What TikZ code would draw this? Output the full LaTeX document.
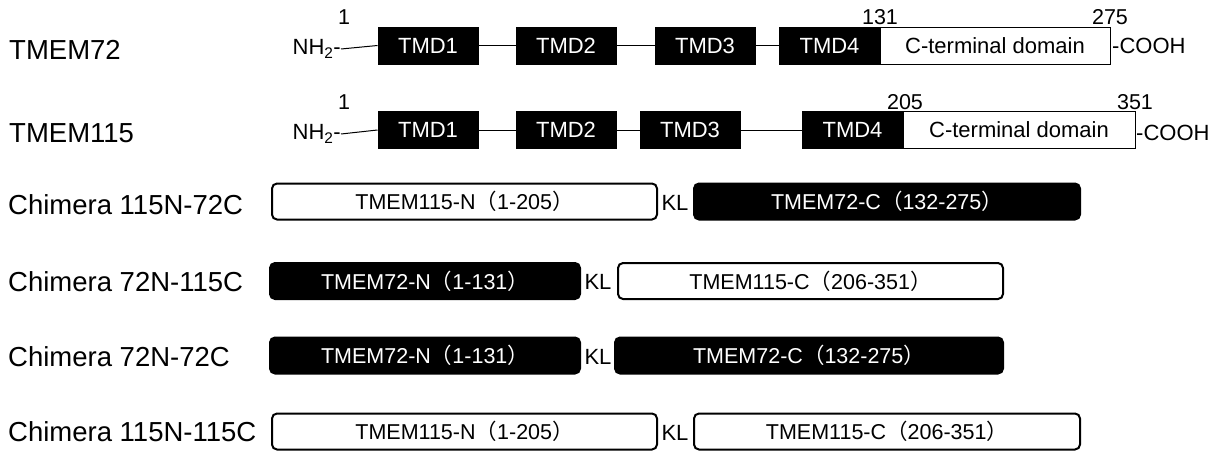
\documentclass[tikz,border=0pt]{standalone}
\usepackage{fontspec}
\setmainfont{Liberation Sans}
\newfontfamily\cjk{Noto Sans CJK SC}
\newcommand\fwl{{\cjk （}}
\newcommand\fwr{{\cjk ）}}
\begin{document}
\begin{tikzpicture}[x=1pt,y=-1pt,
  rowlab/.style={anchor=west,inner sep=0pt,font=\fontsize{27.5}{29}\selectfont},
  tmd/.style={draw=black,fill=black,text=white,line width=1pt,minimum height=37pt,minimum width=100pt,inner sep=0pt,font=\fontsize{22}{24}\selectfont},
  cterm/.style={draw=black,fill=white,line width=1pt,minimum height=37pt,inner sep=0pt,font=\fontsize{22}{24}\selectfont},
  num/.style={inner sep=0pt,font=\fontsize{21.5}{23}\selectfont},
  term/.style={inner sep=0pt,font=\fontsize{22}{24}\selectfont},
  chw/.style={draw=black,fill=white,line width=2pt,rounded corners=5pt,minimum height=36pt,inner sep=0pt,font=\fontsize{21.5}{23}\selectfont},
  chb/.style={draw=black,fill=black,text=white,line width=2pt,rounded corners=5pt,minimum height=36pt,inner sep=0pt,font=\fontsize{21.5}{23}\selectfont},
  kl/.style={inner sep=0pt,font=\fontsize{22}{24}\selectfont},
  link/.style={line width=1pt}]
\useasboundingbox (0,0) rectangle (1223,455);
% Row 1: TMEM72
\node[rowlab] (l1) at (9,50) {TMEM72};
\node[term,anchor=east] (nh1) at (341,49) {NH\textsubscript{2}-};
\node[tmd] (a1) at (428,45.5) {TMD1};
\node[tmd] (a2) at (566,45.5) {TMD2};
\node[tmd] (a3) at (705,45.5) {TMD3};
\node[tmd,minimum width=101pt] (a4) at (829.5,45.5) {TMD4};
\node[cterm,minimum width=230pt] (ac) at (995,45.5) {C-terminal domain};
\node[term,anchor=west] (co1) at (1112,45.5) {-COOH};
\node[num] (n1a) at (344,17) {1};
\node[num] (n1b) at (880,17) {131};
\node[num] (n1c) at (1110,17) {275};
\draw[link] (nh1.east) -- (a1.west);
\draw[link] (a1.east) -- (a2.west);
\draw[link] (a2.east) -- (a3.west);
\draw[link] (a3.east) -- (a4.west);
% Row 2: TMEM115
\node[rowlab] (l2) at (9,133) {TMEM115};
\node[term,anchor=east] (nh2) at (341,134) {NH\textsubscript{2}-};
\node[tmd] (b1) at (428,130) {TMD1};
\node[tmd] (b2) at (566,130) {TMD2};
\node[tmd] (b3) at (690,130) {TMD3};
\node[tmd,minimum width=101pt] (b4) at (852.5,130) {TMD4};
\node[cterm,minimum width=232pt] (bc) at (1019,130) {C-terminal domain};
\node[term,anchor=west] (co2) at (1136,133) {-COOH};
\node[num] (n2a) at (344,102) {1};
\node[num] (n2b) at (905,102) {205};
\node[num] (n2c) at (1135,102) {351};
\draw[link] (nh2.east) -- (b1.west);
\draw[link] (b1.east) -- (b2.west);
\draw[link] (b2.east) -- (b3.west);
\draw[link] (b3.east) -- (b4.west);
% Chimeras
\node[rowlab] (l3) at (8,205) {Chimera 115N-72C};
\node[chw,minimum width=385pt] (c3a) at (464.5,201.5) {TMEM115-N\fwl 1-205\fwr};
\node[kl] (k3) at (675,203) {KL};
\node[chb,minimum width=386pt] (c3b) at (887,201.5) {TMEM72-C\fwl 132-275\fwr};

\node[rowlab] (l4) at (8,282) {Chimera 72N-115C};
\node[chb,minimum width=310pt] (c4a) at (425,281) {TMEM72-N\fwl 1-131\fwr};
\node[kl] (k4) at (598,282) {KL};
\node[chw,minimum width=385pt] (c4b) at (810.5,281) {TMEM115-C\fwl 206-351\fwr};

\node[rowlab] (l5) at (8,357) {Chimera 72N-72C};
\node[chb,minimum width=310pt] (c5a) at (425,355.5) {TMEM72-N\fwl 1-131\fwr};
\node[kl] (k5) at (598,357) {KL};
\node[chb,minimum width=388pt] (c5b) at (809,355.5) {TMEM72-C\fwl 132-275\fwr};

\node[rowlab] (l6) at (8,432) {Chimera 115N-115C};
\node[chw,minimum width=385pt] (c6a) at (464.5,431.5) {TMEM115-N\fwl 1-205\fwr};
\node[kl] (k6) at (675,433) {KL};
\node[chw,minimum width=386pt] (c6b) at (887,431.5) {TMEM115-C\fwl 206-351\fwr};
\end{tikzpicture}
\end{document}
